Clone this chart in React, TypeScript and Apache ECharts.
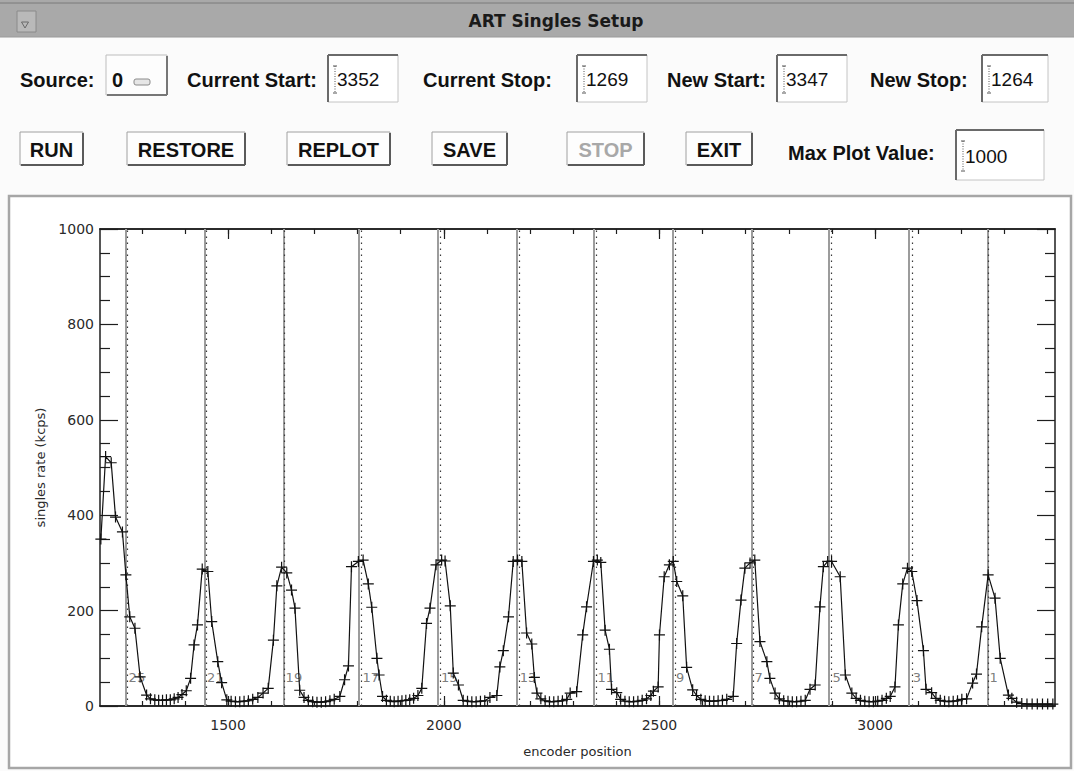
import React, { useEffect, useRef } from 'react';
import * as echarts from 'echarts';

// ---- data ----
const encoder = [
  1205, 1216, 1229, 1239, 1255, 1263, 1272, 1284, 1296, 1311, 1320, 1330, 1339, 1348, 1357, 1366, 1375, 1384, 1393, 1403,
  1413, 1421, 1429, 1440, 1453, 1462, 1476, 1485, 1497,
  1507, 1517, 1527, 1537, 1547, 1557, 1569, 1581, 1593,
  1605, 1613, 1624, 1636, 1647, 1655, 1666,
  1676, 1686, 1696, 1706, 1716, 1726, 1736, 1746, 1759, 1770, 1779,
  1786, 1802, 1813, 1825, 1833, 1845, 1850, 1858,
  1867, 1876, 1885, 1894, 1903, 1912, 1921, 1930, 1940, 1949,
  1960, 1968, 1982, 1995, 2003, 2015, 2022, 2034, 2045,
  2055, 2065, 2075, 2085, 2095, 2107, 2123,
  2130, 2138, 2150, 2161, 2171, 2181, 2192, 2204, 2210, 2216,
  2225, 2235, 2245, 2255, 2265, 2275, 2285, 2293, 2308,
  2322, 2331, 2347, 2356, 2364, 2374, 2384, 2389, 2401,
  2410, 2420, 2430, 2440, 2450, 2460, 2470, 2480, 2486, 2497,
  2500, 2511, 2523, 2532, 2540, 2554, 2563, 2577, 2586,
  2596, 2606, 2616, 2626, 2636, 2646, 2656, 2671,
  2679, 2689, 2698, 2710, 2721, 2733, 2749, 2756, 2768,
  2778, 2788, 2798, 2808, 2818, 2828, 2838, 2849, 2861,
  2872, 2880, 2890, 2899, 2919, 2931, 2946,
  2956, 2966, 2976, 2986, 2996, 3006, 3016, 3026, 3035, 3046,
  3054, 3064, 3075, 3085, 3097, 3112, 3118, 3131,
  3141, 3151, 3161, 3171, 3181, 3191, 3201, 3212, 3226, 3235,
  3247, 3262, 3278, 3290, 3309, 3317, 3328,
  3340, 3352, 3364, 3376, 3388, 3400, 3412,
];
const rate = [
  350, 523, 510, 396, 365, 275, 187, 163, 61, 23, 15, 13, 12, 12, 13, 13, 15, 18, 24, 32,
  58, 128, 170, 287, 282, 177, 93, 49, 13,
  10, 9, 9, 10, 11, 14, 18, 27, 37,
  138, 252, 291, 279, 243, 205, 33,
  18, 12, 9, 8, 8, 9, 11, 14, 20, 55, 84,
  292, 303, 306, 256, 207, 100, 65, 20,
  12, 10, 9, 10, 11, 12, 13, 16, 22, 37,
  173, 205, 296, 306, 304, 210, 69, 44, 12,
  10, 9, 9, 10, 11, 18, 22,
  82, 116, 187, 303, 306, 303, 153, 130, 60, 27,
  15, 11, 9, 9, 10, 11, 14, 27, 30,
  149, 208, 303, 306, 301, 159, 119, 35, 28,
  14, 10, 9, 9, 10, 12, 15, 22, 31, 40,
  149, 271, 296, 303, 261, 231, 81, 34, 22,
  14, 11, 10, 10, 11, 12, 14, 20,
  131, 222, 289, 300, 306, 135, 93, 58, 27,
  15, 11, 10, 9, 9, 10, 12, 35, 44,
  208, 292, 303, 303, 271, 65, 27,
  16, 12, 10, 9, 9, 10, 12, 16, 20, 40,
  170, 256, 289, 282, 221, 116, 35, 28,
  16, 12, 10, 9, 10, 11, 14, 15, 48, 67,
  166, 275, 226, 100, 23, 16, 8,
  5, 4, 4, 4, 4, 4, 4,
];
// solid gray boundary lines and dotted marker lines (encoder positions)
const boundaryLines = [1262, 1445, 1628, 1804, 1986, 2169, 2348, 2530, 2713, 2892, 3079, 3260];
const markerLines = [1267, 1449, 1631, 1809, 1991, 2174, 2354, 2536, 2718, 2899, 3085, 3263];
const markerLabels = ['25', '21', '19', '17', '15', '13', '11', '9', '7', '5', '3', '1'];
const markerLabelLevel = 59;

const xMin = 1203;
const xMax = 3417;
const xMajorTicks = [1500, 2000, 2500, 3000];
const xMinorTicks = [1300, 1400, 1500, 1600, 1700, 1800, 1900, 2000, 2100, 2200, 2300, 2400, 2500, 2600, 2700, 2800, 2900, 3000, 3100, 3200, 3300, 3400];
const yMin = 0;
const yMax = 1000;
const yStep = 200;

// GUI texts
const windowTitle = 'ART Singles Setup';
const fieldLabels = ['Current Start:', 'Current Stop:', 'New Start:', 'New Stop:'];
const fieldValues = ['3352', '1269', '3347', '1264'];
const buttonLabels = ['RUN', 'RESTORE', 'REPLOT', 'SAVE', 'STOP', 'EXIT'];
const maxPlotLabel = 'Max Plot Value:';
const maxPlotValue = '1000';

const BOLD = 'bold 20px "Liberation Sans", Arial, sans-serif';
const REG = '19px "Liberation Sans", Arial, sans-serif';
const AXF = '"DejaVu Sans", sans-serif';

function textBox(x: number, y: number, w: number, h: number, val: string): any[] {
  return [
    { type: 'rect', shape: { x, y, width: w, height: h }, style: { fill: '#ffffff', stroke: '#c4c4c4', lineWidth: 1 } },
    { type: 'line', shape: { x1: x, y1: y, x2: x + w, y2: y }, style: { stroke: '#6a6a6a', lineWidth: 2 } },
    { type: 'line', shape: { x1: x, y1: y, x2: x, y2: y + h }, style: { stroke: '#6a6a6a', lineWidth: 2 } },
    { type: 'line', shape: { x1: x + 7, y1: y + 11, x2: x + 7, y2: y + h - 9 }, style: { stroke: '#555', lineWidth: 1, lineDash: [1, 1.5] } },
    { type: 'line', shape: { x1: x + 5, y1: y + 11, x2: x + 9, y2: y + 11 }, style: { stroke: '#555', lineWidth: 1 } },
    { type: 'line', shape: { x1: x + 5, y1: y + h - 9, x2: x + 9, y2: y + h - 9 }, style: { stroke: '#555', lineWidth: 1 } },
    { type: 'text', x: x + 9, y: y + h / 2 + 1, style: { text: val, font: REG, fill: '#111', verticalAlign: 'middle', textAlign: 'left' } },
  ];
}

function button(x: number, y: number, w: number, h: number, label: string, disabled: boolean): any[] {
  return [
    { type: 'rect', shape: { x, y, width: w, height: h }, style: { fill: '#fdfdfd', stroke: '#a0a0a0', lineWidth: 1 } },
    { type: 'line', shape: { x1: x + 1, y1: y + h, x2: x + w, y2: y + h }, style: { stroke: '#5a5a5a', lineWidth: 2 } },
    { type: 'line', shape: { x1: x + w, y1: y + 1, x2: x + w, y2: y + h }, style: { stroke: '#5a5a5a', lineWidth: 2 } },
    { type: 'text', x: x + w / 2, y: y + h / 2 + 1, style: { text: label, font: BOLD, fill: disabled ? '#a8a8a8' : '#111', textAlign: 'center', verticalAlign: 'middle' } },
  ];
}

function label(x: number, y: number, t: string): any {
  return { type: 'text', x, y, style: { text: t, font: BOLD, fill: '#111', textAlign: 'left', verticalAlign: 'middle' } };
}

export default function App() {
  const ref = useRef<HTMLDivElement>(null);

  useEffect(() => {
    if (!ref.current) return;
    const chart = echarts.init(ref.current, undefined, { renderer: 'svg' });

    const fieldLabelX = [187, 423, 667, 870];
    const fieldBoxX = [328, 577, 777, 982];
    const buttonX = [20, 127, 287, 432, 567, 686];
    const buttonW = [63, 118, 103, 75, 77, 66];

    const gfx: any[] = [
      // plot panel frame
      { type: 'rect', z: -10, shape: { x: 9, y: 196, width: 1062, height: 572 }, style: { fill: '#ffffff', stroke: '#a6a6a6', lineWidth: 2.5 } },
      // title bar
      { type: 'rect', shape: { x: 0, y: 0, width: 1074, height: 37 }, style: { fill: '#a9a9a9' } },
      { type: 'line', shape: { x1: 0, y1: 3, x2: 1074, y2: 3 }, style: { stroke: '#7a7a7a', lineWidth: 1 } },
      { type: 'line', shape: { x1: 0, y1: 37, x2: 1074, y2: 37 }, style: { stroke: '#9a9a9a', lineWidth: 1 } },
      { type: 'rect', shape: { x: 17, y: 11, width: 19, height: 21 }, style: { fill: '#b9b9b9', stroke: '#8a8a8a', lineWidth: 1 } },
      { type: 'polygon', shape: { points: [[21.5, 22], [28.5, 22], [25, 28]] }, style: { fill: 'none', stroke: '#6a6a6a', lineWidth: 1 } },
      { type: 'text', x: 556, y: 21, style: { text: windowTitle, font: 'bold 17px "DejaVu Sans", sans-serif', fill: '#1a1a1a', textAlign: 'center', verticalAlign: 'middle' } },
      // source selector
      label(20, 80, 'Source:'),
      { type: 'rect', shape: { x: 106, y: 55, width: 61, height: 40 }, style: { fill: '#fdfdfd', stroke: '#bdbdbd', lineWidth: 1 } },
      { type: 'line', shape: { x1: 107, y1: 95, x2: 167, y2: 95 }, style: { stroke: '#777', lineWidth: 2 } },
      { type: 'line', shape: { x1: 167, y1: 56, x2: 167, y2: 95 }, style: { stroke: '#777', lineWidth: 2 } },
      { type: 'text', x: 112, y: 80, style: { text: '0', font: BOLD, fill: '#111', textAlign: 'left', verticalAlign: 'middle' } },
      { type: 'rect', shape: { x: 134, y: 79, width: 16, height: 6, r: 2 }, style: { fill: '#e6e6e6', stroke: '#8a8a8a', lineWidth: 1 } },
      label(788, 153, maxPlotLabel),
      ...textBox(956, 130, 88, 50, maxPlotValue),
    ];
    fieldLabels.forEach((t, i) => {
      gfx.push(label(fieldLabelX[i], 80, t));
      gfx.push(...textBox(fieldBoxX[i], 55, i === 3 ? 66 : 70, 47, fieldValues[i]));
    });
    buttonLabels.forEach((t, i) => {
      gfx.push(...button(buttonX[i], 132, buttonW[i], 33, t, t === 'STOP'));
    });

    const axisLineStyle = { color: '#1e1e1e', width: 1.5 };
    const tickStyle = { color: '#1e1e1e', width: 1.2 };
    const hiddenLabel = { show: false };
    const axText = { fontFamily: AXF, fontSize: 14, fontWeight: 'normal', color: '#2a2a2a' };

    const xBase = {
      type: 'value', min: xMin, max: xMax, splitLine: { show: false },
      axisLine: { show: true, onZero: false, lineStyle: axisLineStyle },
    };

    const plus = 'path://M0,4.45H10V5.55H0Z M4.45,0H5.55V10H4.45Z';

    const option: any = {
      animation: false,
      backgroundColor: '#fbfbfb',
      grid: { left: 100, top: 229, right: 19, bottom: 65, containLabel: false },
      xAxis: [
        {
          ...xBase, position: 'bottom',
          axisTick: { show: true, inside: true, length: 5, customValues: xMinorTicks, lineStyle: tickStyle },
          axisLabel: { show: true, customValues: xMajorTicks, margin: 12, ...axText, formatter: (v: number) => String(v) },
          name: 'encoder position', nameLocation: 'middle', nameGap: 39,
          nameTextStyle: { ...axText, fontSize: 13 },
        },
        {
          ...xBase, position: 'bottom',
          axisTick: { show: true, inside: true, length: 10, customValues: xMajorTicks, lineStyle: tickStyle },
          axisLabel: hiddenLabel,
        },
        {
          ...xBase, position: 'top',
          axisTick: { show: true, inside: true, length: 5, customValues: xMinorTicks, lineStyle: tickStyle },
          axisLabel: hiddenLabel,
        },
        {
          ...xBase, position: 'top',
          axisTick: { show: true, inside: true, length: 10, customValues: xMajorTicks, lineStyle: tickStyle },
          axisLabel: hiddenLabel,
        },
      ],
      yAxis: [
        {
          type: 'value', min: yMin, max: yMax, interval: yStep, position: 'left',
          splitLine: { show: false },
          axisLine: { show: true, onZero: false, lineStyle: axisLineStyle },
          axisTick: { show: true, inside: true, length: 18, lineStyle: tickStyle },
          minorTick: { show: true, splitNumber: 4, length: 10, lineStyle: tickStyle },
          axisLabel: { margin: 6, ...axText, formatter: (v: number) => String(v) },
          name: 'singles rate (kcps)', nameLocation: 'middle', nameGap: 52,
          nameTextStyle: { ...axText, fontSize: 13 },
        },
        {
          type: 'value', min: yMin, max: yMax, interval: yStep, position: 'right',
          splitLine: { show: false },
          axisLine: { show: true, onZero: false, lineStyle: axisLineStyle },
          axisTick: { show: true, inside: true, length: 18, lineStyle: tickStyle },
          minorTick: { show: true, splitNumber: 4, length: 10, lineStyle: tickStyle },
          axisLabel: hiddenLabel,
        },
      ],
      graphic: gfx,
      series: [
        {
          type: 'line', name: 'boundaries', data: [], z: 1, silent: true,
          markLine: {
            silent: true, symbol: 'none', label: { show: false },
            lineStyle: { color: '#9c9c9c', width: 2, type: 'solid' },
            data: boundaryLines.map((v) => ({ xAxis: v })),
          },
        },
        {
          type: 'line', name: 'markers', data: [], z: 1, silent: true,
          markLine: {
            silent: true, symbol: 'none', label: { show: false },
            lineStyle: { color: '#3a3a3a', width: 1.2, type: [1.5, 4.5] },
            data: markerLines.map((v) => ({ xAxis: v })),
          },
        },
        {
          type: 'scatter', name: 'labels', z: 3, silent: true, symbolSize: 0,
          data: markerLines.map((v) => [v, markerLabelLevel]),
          label: {
            show: true, position: 'right', distance: 1,
            formatter: (p: any) => markerLabels[p.dataIndex],
            fontFamily: AXF, fontSize: 13, fontWeight: 'normal', color: '#5a5a5a',
          },
        },
        {
          type: 'line', name: 'singles rate', z: 5,
          data: encoder.map((x, i) => [x, rate[i]]),
          showAllSymbol: true, symbol: plus, symbolSize: 11,
          itemStyle: { color: '#111' },
          lineStyle: { color: '#111', width: 1.2 },
        },
      ],
    };

    chart.setOption(option);
    return () => chart.dispose();
  }, []);

  return (
    <div
      ref={ref}
      style={{ position: 'fixed', left: 0, top: 0, width: 1074, height: 771 }}
    />
  );
}
